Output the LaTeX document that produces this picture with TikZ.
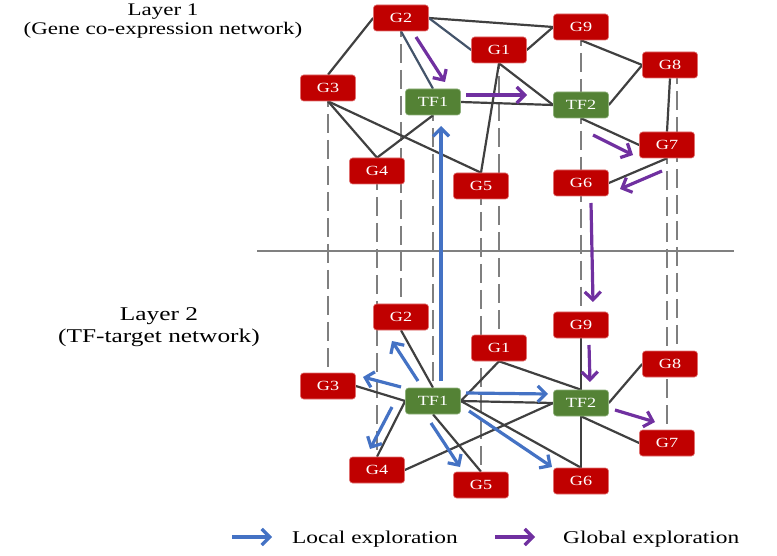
\documentclass[tikz,border=0pt]{standalone}
\usepackage{fontspec}
\setmainfont{Liberation Serif}[FakeStretch=1.3]
\usetikzlibrary{arrows.meta}
\pgfdeclarelayer{background}
\pgfsetlayers{background,main}
\definecolor{gred}{HTML}{C00000}
\definecolor{gredline}{HTML}{E07070}
\definecolor{tfgreen}{HTML}{548235}
\definecolor{tfline}{HTML}{8DB07A}
\definecolor{edgegray}{HTML}{404040}
\definecolor{slategray}{HTML}{44546A}
\definecolor{dashgray}{HTML}{7F7F7F}
\definecolor{sepgray}{HTML}{808080}
\definecolor{lblue}{HTML}{4472C4}
\definecolor{gpurple}{HTML}{7030A0}
\begin{document}
\begin{tikzpicture}[x=1pt,y=-1pt,
  gene/.style={rectangle, rounded corners=3pt, fill=gred, draw=gredline, line width=0.6pt,
    minimum width=55pt, minimum height=26pt, inner sep=0pt, text=white,
    font=\fontsize{14}{16}\selectfont},
  tf/.style={gene, fill=tfgreen, draw=tfline},
  conn/.style={draw=edgegray, line width=2.2pt},
  slateconn/.style={draw=slategray, line width=2.2pt},
  vlink/.style={draw=dashgray, line width=2.2pt, dash pattern=on 19pt off 7pt},
  localarrow/.style={draw=lblue, line width=3.2pt, -{Straight Barb[length=8pt,width=16pt]}},
  globalarrow/.style={draw=gpurple, line width=3.2pt, -{Straight Barb[length=8pt,width=16pt]}},
  layertext/.style={align=center, inner sep=0pt, anchor=base},
  legendtext/.style={font=\fontsize{18}{20}\selectfont, anchor=base west, inner sep=0pt}]
\useasboundingbox (0,0) rectangle (777,556);

% layer labels
\node[layertext, font=\fontsize{17.7}{19.5}\selectfont] (lab1) at (163,35) {Layer 1\\(Gene co-expression network)};
\node[layertext, font=\fontsize{19.5}{22}\selectfont] (lab2) at (159,342) {Layer 2\\(TF-target network)};

% Layer 1 nodes
\node[gene] (aG2) at (401,18) {G2};
\node[gene] (aG1) at (499,50) {G1};
\node[gene] (aG3) at (328,88) {G3};
\node[tf]   (aT1) at (433,102) {TF1};
\node[gene] (aG4) at (377,171) {G4};
\node[gene] (aG5) at (481,186) {G5};
\node[gene] (aG9) at (581,27) {G9};
\node[gene] (aG8) at (670,65) {G8};
\node[tf]   (aT2) at (581,105) {TF2};
\node[gene] (aG7) at (667,145) {G7};
\node[gene] (aG6) at (581,183) {G6};

% Layer 2 nodes
\node[gene] (bG2) at (401,317) {G2};
\node[gene] (bG1) at (499,348) {G1};
\node[gene] (bG3) at (328,386) {G3};
\node[tf]   (bT1) at (433,401) {TF1};
\node[gene] (bG4) at (377,470) {G4};
\node[gene] (bG5) at (481,485) {G5};
\node[gene] (bG9) at (581,325) {G9};
\node[gene] (bG8) at (670,364) {G8};
\node[tf]   (bT2) at (581,403) {TF2};
\node[gene] (bG7) at (667,443) {G7};
\node[gene] (bG6) at (581,481) {G6};

% separator
\coordinate (sepL) at (257,251);
\coordinate (sepR) at (734,251);

\begin{pgfonlayer}{background}
  % inter-layer links
  \draw[vlink] (aG3.center) -- (bG3.center);
  \draw[vlink] (aG4.center) -- (bG4.center);
  \draw[vlink] (aG2.center) -- (bG2.center);
  \draw[vlink] (aT1.center) -- (bT1.center);
  \draw[vlink] (aG5.center) -- (bG5.center);
  \draw[vlink] (aG1.center) -- (bG1.center);
  \draw[vlink] (aG9.center) -- (bG9.center);
  \draw[vlink] (aT2.center) -- (bT2.center);
  \draw[vlink] (aG6.center) -- (bG6.center);
  \draw[vlink] (aG7.center) -- (bG7.center);
  \draw[vlink] ([xshift=7pt]aG8.center) -- ([xshift=7pt]bG8.center);
  % separator line
  \draw[draw=sepgray, line width=2.5pt] (sepL) -- (sepR);
  % Layer 1 edges
  \draw[conn] (aG2.west) -- (aG3.north);
  \draw[conn] (aG2.east) -- (aG9.west);
  \draw[slateconn] (aG2.east) -- (aG1.west);
  \draw[slateconn] (aG2.south) -- (aT1.north);
  \draw[conn] (aG1.east) -- (aG9.west);
  \draw[conn] (aG1.south) -- (aG5.north);
  \draw[conn] (aG1.south) -- (aT2.west);
  \draw[conn] (aT1.east) -- (aT2.west);
  \draw[conn] (aG3.south) -- (aG4.north);
  \draw[conn] (aG3.south) -- (aG5.north);
  \draw[conn] (aT1.south) -- (aG4.north);
  \draw[conn] (aG9.south) -- (aG8.west);
  \draw[conn] (aT2.east) -- (aG8.west);
  \draw[conn] (aT2.south) -- (aG7.west);
  \draw[conn] (aG8.south) -- (aG7.north);
  \draw[conn] (aG7.south) -- (aG6.east);
  % Layer 2 edges
  \draw[conn] (bG2.south) -- (bT1.north);
  \draw[conn] (bG3.east) -- (bT1.west);
  \draw[conn] (bT1.west) -- (bG4.north);
  \draw[conn] (bT1.south) -- (bG5.north);
  \draw[conn] (bT1.east) -- (bG1.south);
  \draw[conn] (bG1.south) -- (bT2.north);
  \draw[conn] (bT1.east) -- (bT2.west);
  \draw[conn] (bT1.east) -- (bG6.north);
  \draw[conn] (bG4.east) -- (bT2.west);
  \draw[conn] (bG9.south) -- (bT2.north);
  \draw[conn] (bT2.east) -- (bG8.west);
  \draw[conn] (bT2.south) -- (bG6.north);
  \draw[conn] (bT2.south) -- (bG7.west);
\end{pgfonlayer}

% exploration arrows: named end points
\coordinate (b1s) at (441,381); \coordinate (b1e) at (441,126);
\coordinate (b2s) at (418,381); \coordinate (b2e) at (392,341);
\coordinate (b3s) at (401,387); \coordinate (b3e) at (363,377);
\coordinate (b4s) at (392,407); \coordinate (b4e) at (370,449);
\coordinate (b5s) at (431,423); \coordinate (b5e) at (460,467);
\coordinate (b6s) at (466,393); \coordinate (b6e) at (548,394);
\coordinate (b7s) at (469,411); \coordinate (b7e) at (552,467);
\coordinate (p1s) at (416,37);  \coordinate (p1e) at (445,82);
\coordinate (p2s) at (466,95);  \coordinate (p2e) at (527,95);
\coordinate (p3s) at (593,135); \coordinate (p3e) at (633,155);
\coordinate (p4s) at (662,171); \coordinate (p4e) at (620,189);
\coordinate (p5s) at (591,203); \coordinate (p5e) at (593,302);
\coordinate (p6s) at (589,345); \coordinate (p6e) at (590,382);
\coordinate (p7s) at (615,410); \coordinate (p7e) at (655,422);

\draw[localarrow] (b1s) -- (b1e);
\draw[localarrow] (b2s) -- (b2e);
\draw[localarrow] (b3s) -- (b3e);
\draw[localarrow] (b4s) -- (b4e);
\draw[localarrow] (b5s) -- (b5e);
\draw[localarrow] (b6s) -- (b6e);
\draw[localarrow] (b7s) -- (b7e);
\draw[globalarrow] (p1s) -- (p1e);
\draw[globalarrow] (p2s) -- (p2e);
\draw[globalarrow] (p3s) -- (p3e);
\draw[globalarrow] (p4s) -- (p4e);
\draw[globalarrow] (p5s) -- (p5e);
\draw[globalarrow] (p6s) -- (p6e);
\draw[globalarrow] (p7s) -- (p7e);

% legend
\coordinate (lg1s) at (232,537); \coordinate (lg1e) at (272,537);
\coordinate (lg2s) at (495,537); \coordinate (lg2e) at (535,537);
\draw[localarrow] (lg1s) -- (lg1e);
\draw[globalarrow] (lg2s) -- (lg2e);
\node[legendtext] (lgt1) at (292,543) {Local exploration};
\node[legendtext] (lgt2) at (563,543) {Global exploration};
\end{tikzpicture}
\end{document}
